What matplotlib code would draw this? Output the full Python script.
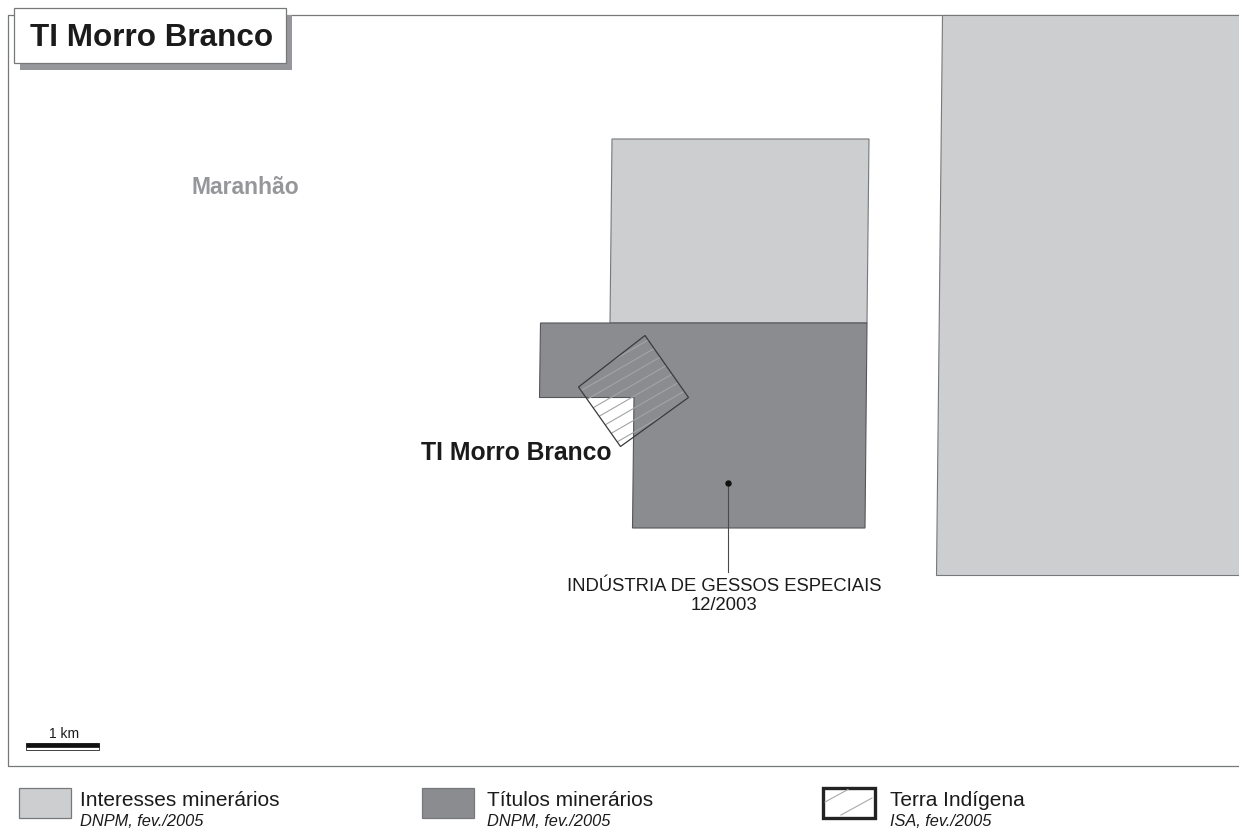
import matplotlib
matplotlib.use("Agg")
import matplotlib.pyplot as plt
from matplotlib.patches import Polygon, Rectangle
import numpy as np

plt.rcParams['font.family'] = ['Liberation Sans', 'DejaVu Sans']

# Map geometry (pixel-like map coordinates)
interesses_north = [(612, 139), (869, 139), (867, 323), (610, 323)]
interesses_east = [(942, 15), (1240, 15), (1240, 575), (935.5, 575)]
titulos = [(540.5, 323), (867, 323), (865, 528), (632.5, 528), (634, 397.5), (539.5, 397.5)]
terra_indigena = [(645, 335.5), (688.5, 397.5), (620.5, 446.5), (578.5, 387)]
hatch_slope = -0.577
hatch_intercepts = [714, 726, 738, 750, 762, 774, 786, 798]
process_point = (727.5, 482.5)
leader_end = (727.5, 572)
frame = [(1240, 15), (8, 15), (8, 766), (1240, 766)]

title_text = "TI Morro Branco"
state_label = "Maranhão"
process_label = "INDÚSTRIA DE GESSOS ESPECIAIS\n12/2003"
legend_titles = ["Interesses minerários", "Títulos minerários", "Terra Indígena"]
legend_sources = ["DNPM, fev./2005", "DNPM, fev./2005", "ISA, fev./2005"]

LIGHT = "#cdced0"
DARK = "#8b8c90"
TEXT = "#1c1b1c"

fig = plt.figure(figsize=(12.39, 8.32), dpi=100, facecolor="white")
ax = fig.add_axes([0, 0, 1, 1])
ax.set_xlim(0, 1239)
ax.set_ylim(832, 0)
ax.axis("off")

ax.plot(*zip(*frame), color="#77787b", lw=0.9, zorder=1)

for pts in (interesses_north, interesses_east):
    ax.add_patch(Polygon(pts, closed=True, fc=LIGHT, ec="#77787b", lw=0.8, zorder=2))
ax.add_patch(Polygon(titulos, closed=True, fc=DARK, ec="#55565a", lw=0.8, zorder=3))

# Terra Indígena
ti_patch = Polygon(terra_indigena, closed=True, fc="none", ec="none")
ax.add_patch(ti_patch)
xs = np.array([560.0, 700.0])
for b in hatch_intercepts:
    ln, = ax.plot(xs, hatch_slope * xs + b, color="#a3a4a7", lw=0.8, zorder=4)
    ln.set_clip_path(ti_patch)
ax.add_patch(Polygon(terra_indigena, closed=True, fc="none", ec="#3a3a3c", lw=0.9, zorder=5))

# Process marker and label
ax.plot([process_point[0], leader_end[0]], [process_point[1], leader_end[1]],
        color="#4a4a4c", lw=0.8, zorder=5)
ax.plot(*process_point, "o", color="#111111", ms=3.6, zorder=6)
ax.text(724.5, 596, process_label, ha="center", va="center", fontsize=13.3,
        color=TEXT, linespacing=1.12, zorder=6)
ax.text(516, 452.5, title_text, ha="center", va="center", fontsize=17.8,
        fontweight="bold", color=TEXT, zorder=6)
ax.text(245.5, 187.5, state_label, ha="center", va="center", fontsize=16.5,
        fontweight="bold", color="#96979b", zorder=6)

# Title box
ax.add_patch(Rectangle((20, 15), 272, 55, fc="#96979b", ec="none", zorder=7))
ax.add_patch(Rectangle((14, 8), 272, 55, fc="white", ec="#77787b", lw=0.9, zorder=8))
ax.text(152, 37.5, title_text, ha="center", va="center", fontsize=22.6,
        fontweight="bold", color=TEXT, zorder=9)

# Scale bar
ax.add_patch(Rectangle((26, 743), 73, 3.5, fc="#111111", ec="#111111", lw=0.6, zorder=6))
ax.add_patch(Rectangle((26, 746.5), 73, 3, fc="white", ec="#222222", lw=0.6, zorder=6))
ax.text(64, 734, "1 km", ha="center", va="center", fontsize=10, color=TEXT, zorder=6)

# Legend
ax.add_patch(Rectangle((18.5, 788), 52, 30, fc=LIGHT, ec="#77787b", lw=0.9))
ax.add_patch(Rectangle((422, 788), 52, 30, fc=DARK, ec="#77787b", lw=0.9))
ax.add_patch(Rectangle((822.5, 787.5), 52, 30, fc="white", ec="#222222", lw=2.4))
for x0, y0, x1, y1 in [(825, 802, 848, 789.5), (841, 815, 872, 798)]:
    ax.plot([x0, x1], [y0, y1], color="#a7a8ab", lw=0.8)

legend_x = [80, 487, 890]
for x, t, s in zip(legend_x, legend_titles, legend_sources):
    ax.text(x, 800.5, t, ha="left", va="center", fontsize=15.0, color=TEXT)
    ax.text(x, 822, s, ha="left", va="center", fontsize=11.8, style="italic", color=TEXT)

fig.savefig("out.png", dpi=100, facecolor="white")
